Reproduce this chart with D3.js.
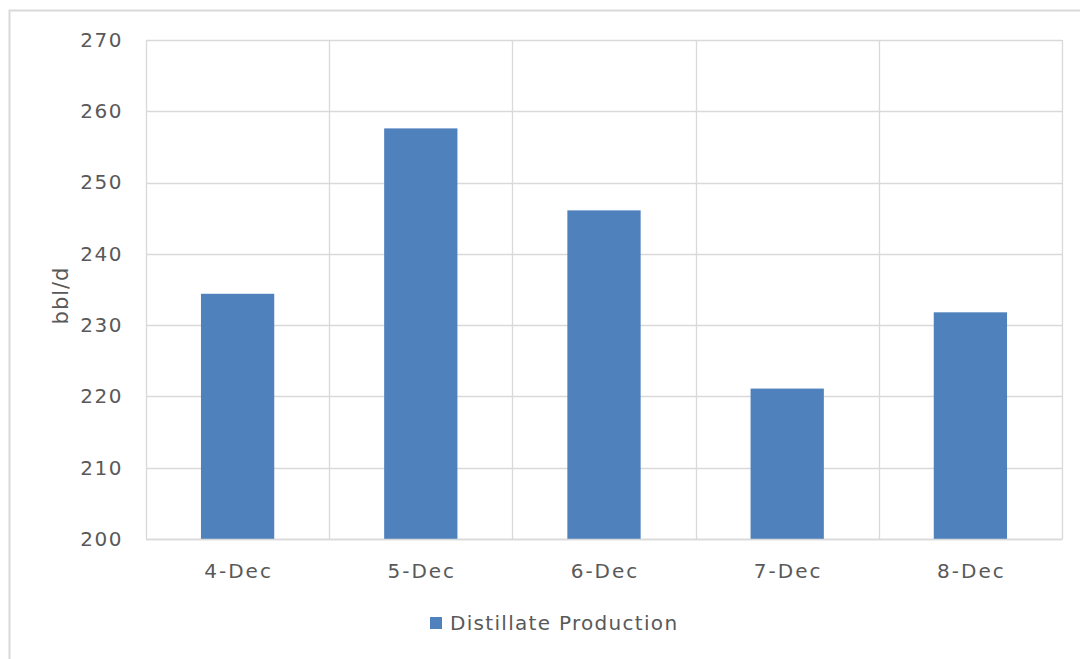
<!DOCTYPE html>
<html>
<head>
<meta charset="utf-8">
<script src="https://cdn.jsdelivr.net/npm/d3@7"></script>
<style>
    body { margin: 0; background: #fff; }
    text { font-family: "DejaVu Sans", sans-serif; fill: #595959; }
</style>
</head>
<body>
<svg id="chart" width="1080" height="659"></svg>
<script>
var categories = ["4-Dec", "5-Dec", "6-Dec", "7-Dec", "8-Dec"];
var production = [234.4, 257.6, 246.1, 221.1, 231.8];
var yTicks = [200, 210, 220, 230, 240, 250, 260, 270];
var seriesName = "Distillate Production";

(function () {
    var svg = d3.select("#chart"),
        margin = {top: 40, right: 18, bottom: 120, left: 146},
        width = 1062 - margin.left,
        height = 539 - margin.top;

    // outer frame (only top and left edges visible)
    svg.append("path")
        .attr("d", "M9.5,659V10.5H1080")
        .attr("fill", "none")
        .attr("stroke", "#d9d9d9")
        .attr("stroke-width", 2);

    var x = d3.scaleBand().domain(categories).range([0, width]).paddingInner(0).paddingOuter(0),
        y = d3.scaleLinear().domain([200, 270]).range([height, 0]);

    var g = svg.append("g")
        .attr("transform", "translate(" + margin.left + "," + margin.top + ")");

    // horizontal gridlines
    g.append("g")
        .selectAll("line")
        .data(yTicks)
        .enter().append("line")
        .attr("x1", 0).attr("x2", width)
        .attr("y1", function (d) { return Math.round(y(d)) + 0.5; })
        .attr("y2", function (d) { return Math.round(y(d)) + 0.5; })
        .attr("stroke", "#d9d9d9")
        .attr("stroke-width", 1.3);

    // vertical gridlines at category boundaries
    var bounds = categories.map(function (c) { return x(c); }).concat([width]);
    g.append("g")
        .selectAll("line")
        .data(bounds)
        .enter().append("line")
        .attr("x1", function (d) { return Math.round(d) + 0.5; })
        .attr("x2", function (d) { return Math.round(d) + 0.5; })
        .attr("y1", 0).attr("y2", height)
        .attr("stroke", "#d9d9d9")
        .attr("stroke-width", 1.3);

    // bars (40% of band width)
    var bw = x.bandwidth() * 0.4;
    g.selectAll(".bar")
        .data(production)
        .enter().append("rect")
        .attr("class", "bar")
        .attr("x", function (d, i) { return x(categories[i]) + (x.bandwidth() - bw) / 2; })
        .attr("y", function (d) { return y(d); })
        .attr("width", bw)
        .attr("height", function (d) { return height - y(d); })
        .attr("fill", "#4f81bd");

    // y tick labels
    var yAxis = g.append("g")
        .call(d3.axisLeft(y).tickValues(yTicks).tickSize(0).tickPadding(23));
    yAxis.select(".domain").remove();
    yAxis.selectAll("text")
        .style("font-size", "20px")
        .style("letter-spacing", "1.5px")
        .attr("fill", "#595959");

    // x tick labels
    var xAxis = g.append("g")
        .attr("transform", "translate(0," + height + ")")
        .call(d3.axisBottom(x).tickSize(0).tickPadding(25));
    xAxis.select(".domain")
        .attr("stroke", "#d9d9d9")
        .attr("stroke-width", 1.5);
    xAxis.selectAll("text")
        .style("font-size", "20px")
        .style("letter-spacing", "2px")
        .attr("dx", "1px")
        .attr("fill", "#595959");

    // y axis title
    svg.append("text")
        .attr("transform", "translate(68," + (margin.top + height / 2 + 6) + ") rotate(-90)")
        .style("text-anchor", "middle")
        .style("font-size", "21px")
        .style("letter-spacing", "1px")
        .text("bbl/d");

    // legend
    var legend = svg.append("g").attr("transform", "translate(430,617)");
    legend.append("rect")
        .attr("width", 12).attr("height", 12)
        .attr("fill", "#4f81bd");
    legend.append("text")
        .attr("x", 20).attr("y", 13)
        .style("font-size", "20px")
        .style("letter-spacing", "1.3px")
        .text(seriesName);
})();
</script>
</body>
</html>
